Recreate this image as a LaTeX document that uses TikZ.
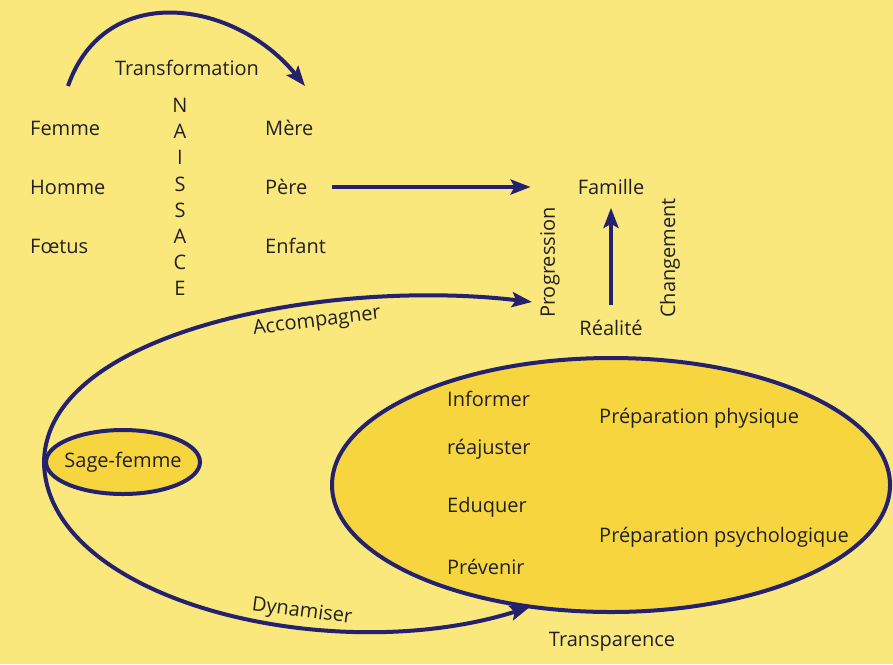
\documentclass[tikz,border=0pt]{standalone}
\usepackage{fontspec}
\setmainfont{Open Sans}
\usetikzlibrary{arrows.meta,shapes.geometric}
\definecolor{bg}{RGB}{250,232,124}
\definecolor{navy}{RGB}{36,33,110}
\definecolor{fillY}{RGB}{246,213,62}
\definecolor{ink}{RGB}{35,32,30}
\tikzset{
  lbl/.style={font=\fontsize{20}{24}\selectfont, text=ink, inner sep=0pt},
  conn/.style={draw=navy, line width=4pt, -{Stealth[length=20pt,width=15pt,inset=4pt]}},
  ring/.style={draw=navy, line width=4pt, ellipse, fill=fillY, inner sep=0pt}
}
\begin{document}
\begin{tikzpicture}[x=1pt,y=-1pt]
\fill[bg] (0,0) rectangle (893,664);
\useasboundingbox (0,0) rectangle (893,664);

% ellipses
\node[ring, minimum width=558pt, minimum height=254pt] (prep) at (611,485) {};
\node[ring, minimum width=154pt, minimum height=64pt] (sage) at (123,462) {};
\node[lbl] (sagetxt) at (sage.center) {Sage-femme};

% top texts
\node[lbl] (transf) at (187,68) {Transformation};
\node[lbl, anchor=west] (femme) at (30,128) {Femme};
\node[lbl, anchor=west] (homme) at (30,187) {Homme};
\node[lbl, anchor=west] (foetus) at (30,246) {Fœtus};
\node[lbl, align=center, font=\fontsize{20}{26.1}\selectfont] (naiss) at (180,197) {N\\A\\I\\S\\S\\A\\C\\E};
\node[lbl, anchor=west] (mere) at (265,128) {Mère};
\node[lbl, anchor=west] (pere) at (265,187) {Père};
\node[lbl, anchor=west] (enfant) at (265,246) {Enfant};
\node[lbl] (famille) at (611,187) {Famille};
\node[lbl] (realite) at (611,328) {Réalité};
\node[lbl, rotate=90, anchor=west] (progr) at (550,318) {Progression};
\node[lbl, rotate=90, anchor=west] (chang) at (670,318) {Changement};

% inner texts
\node[lbl, anchor=west] (inf) at (447,399) {Informer};
\node[lbl, anchor=west] (reaj) at (447,449) {réajuster};
\node[lbl, anchor=west] (edu) at (447,507) {Eduquer};
\node[lbl, anchor=west] (prev) at (447,567) {Prévenir};
\node[lbl, anchor=west] (phys) at (599,418) {Préparation physique};
\node[lbl, anchor=west] (psych) at (599,537) {Préparation psychologique};
\node[lbl] (transp) at (612,642) {Transparence};

% loop labels
\node[lbl, rotate=7] (acc) at (317,322) {Accompagner};
\node[lbl, rotate=-7.5] (dyn) at (302,612) {Dynamiser};

% connectors
\coordinate (tA) at (68,86);
\coordinate (tB) at (305,86);
\draw[conn] (tA) .. controls (105,-20) and (235,0) .. (tB);

\draw[conn] ([xshift=24pt]pere.east) -- ([xshift=-47pt]famille.west);
\draw[conn] ([yshift=15pt]realite.north) -- ([yshift=-13pt]famille.south);

\coordinate (loopA) at (532,302);
\coordinate (loopB) at (530,607);
\draw[draw=navy, line width=4pt, {Stealth[length=20pt,width=15pt,inset=4pt]}-{Stealth[length=20pt,width=15pt,inset=4pt]}]
  (loopA) .. controls (330,278) and (46,330) .. (sage.west)
  .. controls (46,600) and (330,670) .. (loopB);
\end{tikzpicture}
\end{document}
